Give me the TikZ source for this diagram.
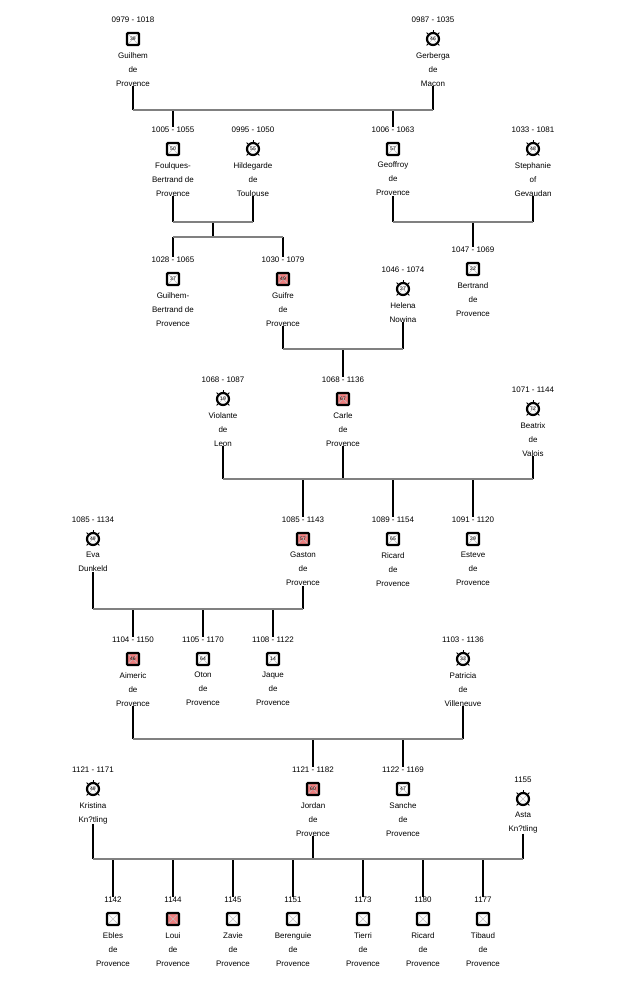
\documentclass[tikz,border=0pt]{standalone}
\usepackage{fontspec}
\setmainfont{Liberation Sans}
\definecolor{hit}{HTML}{F08080}
\definecolor{wedgray}{HTML}{808080}
\tikzset{
  dates/.style={font=\fontsize{8}{14}\selectfont, inner sep=0pt},
  pname/.style={font=\fontsize{8}{14}\selectfont, align=center, inner sep=0pt, anchor=north},
  crossed/.style={path picture={\draw[gray!50, line width=.6pt]
      (path picture bounding box.north west) -- (path picture bounding box.south east)
      (path picture bounding box.north east) -- (path picture bounding box.south west);}},
  male/.style={rectangle, draw, fill=white, line width=2.4pt, minimum size=12pt, inner sep=0pt,
      rounded corners=1pt, font=\fontsize{5}{5}\selectfont, crossed},
  female/.style={circle, draw, fill=white, line width=2.2pt, minimum size=12pt, inner sep=0pt,
      font=\fontsize{5}{5}\selectfont, crossed},
  stub/.style={line width=2.5pt},
  wed/.style={line width=2.5pt, color=wedgray},
}
% id, x, y, date, style, age, names
\newcommand\pers[7]{%
  \node[dates] (#1d) at (#2,#3-19) {#4};
  \node[#5] (#1) at (#2,#3) {#6};
  \node[pname] (#1n) at (#2,#3+13) {#7};}
\newcommand\fticks[1]{%
  \foreach \a in {45,90,135,225,315} \draw[line width=.8pt] (#1.\a) -- ++(\a:2pt);}
\begin{document}
\begin{tikzpicture}[x=1pt,y=-1pt]
\useasboundingbox (0,0) rectangle (636,997);
% generation 1
\pers{gu}{133}{39}{0979 - 1018}{male}{39}{Guilhem\\de\\Provence}
\pers{ge}{433}{39}{0987 - 1035}{female}{46}{Gerberga\\de\\Macon}\fticks{ge}
% generation 2
\pers{fo}{173}{149}{1005 - 1055}{male}{50}{Foulques-\\Bertrand de\\Provence}
\pers{hi}{253}{149}{0995 - 1050}{female}{55}{Hildegarde\\de\\Toulouse}\fticks{hi}
\pers{gf}{393}{149}{1006 - 1063}{male}{57}{Geoffroy\\de\\Provence}
\pers{st}{533}{149}{1033 - 1081}{female}{48}{Stephanie\\of\\Gevaudan}\fticks{st}
% generation 3
\pers{gb}{173}{279}{1028 - 1065}{male}{37}{Guilhem-\\Bertrand de\\Provence}
\pers{gi}{283}{279}{1030 - 1079}{male,fill=hit}{49}{Guifre\\de\\Provence}
\pers{he}{403}{289}{1046 - 1074}{female}{27}{Helena\\Nowina}\fticks{he}
\pers{be}{473}{269}{1047 - 1069}{male}{22}{Bertrand\\de\\Provence}
% generation 4
\pers{vi}{223}{399}{1068 - 1087}{female}{19}{Violante\\de\\Leon}\fticks{vi}
\pers{ca}{343}{399}{1068 - 1136}{male,fill=hit}{67}{Carle\\de\\Provence}
\pers{bx}{533}{409}{1071 - 1144}{female}{72}{Beatrix\\de\\Valois}\fticks{bx}
% generation 5
\pers{ev}{93}{539}{1085 - 1134}{female}{49}{Eva\\Dunkeld}\fticks{ev}
\pers{ga}{303}{539}{1085 - 1143}{male,fill=hit}{57}{Gaston\\de\\Provence}
\pers{ri}{393}{539}{1089 - 1154}{male}{65}{Ricard\\de\\Provence}
\pers{es}{473}{539}{1091 - 1120}{male}{29}{Esteve\\de\\Provence}
% generation 6
\pers{ai}{133}{659}{1104 - 1150}{male,fill=hit}{46}{Aimeric\\de\\Provence}
\pers{ot}{203}{659}{1105 - 1170}{male}{64}{Oton\\de\\Provence}
\pers{ja}{273}{659}{1108 - 1122}{male}{14}{Jaque\\de\\Provence}
\pers{pa}{463}{659}{1103 - 1136}{female}{33}{Patricia\\de\\Villeneuve}\fticks{pa}
% generation 7
\pers{kr}{93}{789}{1121 - 1171}{female}{49}{Kristina\\Kn?tling}\fticks{kr}
\pers{jo}{313}{789}{1121 - 1182}{male,fill=hit}{60}{Jordan\\de\\Provence}
\pers{sa}{403}{789}{1122 - 1169}{male}{47}{Sanche\\de\\Provence}
\pers{as}{523}{799}{1155}{female}{}{Asta\\Kn?tling}\fticks{as}
% generation 8
\pers{eb}{113}{919}{1142}{male}{}{Ebles\\de\\Provence}
\pers{lo}{173}{919}{1144}{male,fill=hit}{}{Loui\\de\\Provence}
\pers{za}{233}{919}{1145}{male}{}{Zavie\\de\\Provence}
\pers{br}{293}{919}{1151}{male}{}{Berenguie\\de\\Provence}
\pers{ti}{363}{919}{1173}{male}{}{Tierri\\de\\Provence}
\pers{rc}{423}{919}{1180}{male}{}{Ricard\\de\\Provence}
\pers{tb}{483}{919}{1177}{male}{}{Tibaud\\de\\Provence}
% families
\coordinate (m1) at (0,110);
\draw[stub] (gun.south) -- (gun.south |- m1);
\draw[stub] (gen.south) -- (gen.south |- m1);
\draw[stub] (fod.north) -- (fod.north |- m1);
\draw[stub] (gfd.north) -- (gfd.north |- m1);
\draw[wed] (gun.south |- m1) -- (gen.south |- m1);

\coordinate (m2) at (213,222);
\coordinate (s2) at (213,237);
\draw[stub] (fon.south) -- (fon.south |- m2);
\draw[stub] (hin.south) -- (hin.south |- m2);
\draw[stub] (m2) -- (s2);
\draw[stub] (gbd.north) -- (gbd.north |- s2);
\draw[stub] (gid.north) -- (gid.north |- s2);
\draw[wed] (fon.south |- m2) -- (hin.south |- m2);
\draw[wed] (gbd.north |- s2) -- (gid.north |- s2);

\coordinate (m3) at (0,222);
\draw[stub] (gfn.south) -- (gfn.south |- m3);
\draw[stub] (stn.south) -- (stn.south |- m3);
\draw[stub] (bed.north) -- (bed.north |- m3);
\draw[wed] (gfn.south |- m3) -- (stn.south |- m3);

\coordinate (m4) at (0,349);
\draw[stub] (gin.south) -- (gin.south |- m4);
\draw[stub] (hen.south) -- (hen.south |- m4);
\draw[stub] (cad.north) -- (cad.north |- m4);
\draw[wed] (gin.south |- m4) -- (hen.south |- m4);

\coordinate (m5) at (0,479);
\foreach \p in {vin,can,bxn} \draw[stub] (\p.south) -- (\p.south |- m5);
\foreach \c in {gad,rid,esd} \draw[stub] (\c.north) -- (\c.north |- m5);
\draw[wed] (vin.south |- m5) -- (bxn.south |- m5);

\coordinate (m6) at (0,609);
\foreach \p in {evn,gan} \draw[stub] (\p.south) -- (\p.south |- m6);
\foreach \c in {aid,otd,jad} \draw[stub] (\c.north) -- (\c.north |- m6);
\draw[wed] (evn.south |- m6) -- (gan.south |- m6);

\coordinate (m7) at (0,739);
\foreach \p in {ain,pan} \draw[stub] (\p.south) -- (\p.south |- m7);
\foreach \c in {jod,sad} \draw[stub] (\c.north) -- (\c.north |- m7);
\draw[wed] (ain.south |- m7) -- (pan.south |- m7);

\coordinate (m8) at (0,859);
\foreach \p in {krn,jon,asn} \draw[stub] (\p.south) -- (\p.south |- m8);
\foreach \c in {ebd,lod,zad,brd,tid,rcd,tbd} \draw[stub] (\c.north) -- (\c.north |- m8);
\draw[wed] (krn.south |- m8) -- (asn.south |- m8);
\end{tikzpicture}
\end{document}
